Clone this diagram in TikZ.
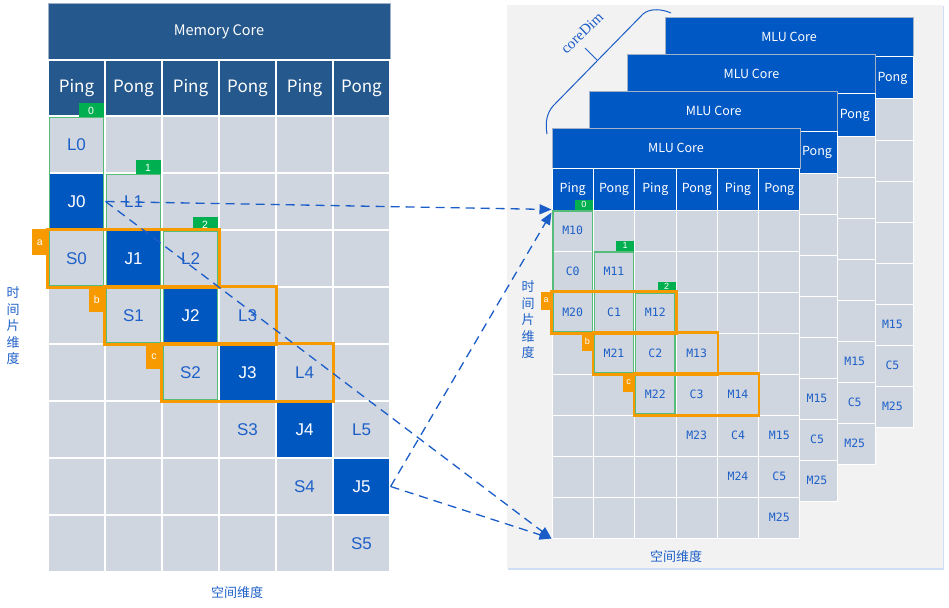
\documentclass[tikz,border=0pt]{standalone}
\usepackage{fontspec}
\setmainfont{Liberation Sans}
\newfontfamily\cjk{Noto Sans CJK SC}
\newfontfamily\monofont{DejaVu Sans Mono}
\newfontfamily\seriffont{Liberation Serif}
\usepackage{tikz}
\usetikzlibrary{calc, positioning, arrows.meta}

\definecolor{memblue}{RGB}{37,88,140}
\definecolor{mlublue}{RGB}{0,88,196}
\definecolor{jblue}{RGB}{0,87,192}
\definecolor{cellgray}{RGB}{207,214,224}
\definecolor{txtblue}{RGB}{30,96,200}
\definecolor{tagorange}{RGB}{247,154,0}
\definecolor{taggreen}{RGB}{0,176,80}
\definecolor{boxgreen}{RGB}{85,188,122}
\definecolor{panelgray}{RGB}{242,242,242}
\definecolor{shadowblue}{RGB}{205,222,245}
\definecolor{edgegray}{RGB}{160,176,198}
\definecolor{arrowblue}{RGB}{26,92,200}

\tikzset{
  memtitle/.style={draw=edgegray, line width=0.8, fill=memblue, text=white, minimum width=342, minimum height=57, inner sep=0, font=\cjk\fontsize{14.5}{14.5}\selectfont},
  memhead/.style={draw=white, line width=1.2, fill=memblue, text=white, minimum width=57, minimum height=56, inner sep=0, font=\cjk\fontsize{17}{17}\selectfont},
  memcell/.style={draw=white, line width=1.2, fill=cellgray, minimum width=57, minimum height=57, inner sep=0},
  memtext/.style={text=txtblue, inner sep=0, font=\fontsize{17}{17}\selectfont},
  jcell/.style={memcell, fill=jblue, text=white, font=\fontsize{17}{17}\selectfont},
  mlutitle/.style={draw=edgegray, line width=0.8, fill=mlublue, text=white, minimum width=248, minimum height=40, inner sep=0, font=\cjk\fontsize{12.5}{12.5}\selectfont},
  mluhead/.style={draw=white, line width=1, fill=mlublue, text=white, minimum width=41.33, minimum height=42, inner sep=0, font=\cjk\fontsize{12.5}{12.5}\selectfont},
  mlucell/.style={draw=white, line width=1, fill=cellgray, minimum width=41.33, minimum height=41, inner sep=0},
  mlutext/.style={text=txtblue, inner sep=0, font=\monofont\fontsize{11.5}{11.5}\selectfont},
  gbox/.style={draw=boxgreen, line width=1.3},
  obox/.style={draw=tagorange, line width=2.4},
  gtag/.style={fill=taggreen, text=white, inner sep=0, outer sep=0, minimum width=25, minimum height=14, font=\fontsize{10.5}{10.5}\selectfont},
  otag/.style={fill=tagorange, text=white, inner sep=0, outer sep=0, minimum width=15, minimum height=26, font=\fontsize{10.5}{10.5}\selectfont},
  sgtag/.style={gtag, minimum width=18, minimum height=10, font=\fontsize{9}{9}\selectfont},
  sotag/.style={otag, minimum width=11, minimum height=18, font=\fontsize{9}{9}\selectfont},
  dimtext/.style={text=txtblue, inner sep=0, align=center, font=\cjk\fontsize{13}{16.5}\selectfont},
  dasharrow/.style={draw=arrowblue, line width=1.3, dash pattern=on 9 off 6, -{Triangle[length=12, width=10]}},
  brc/.style={draw=arrowblue, line width=1}
}

\begin{document}
\begin{tikzpicture}[x=1pt, y=-1pt]
  \useasboundingbox (0,0) rectangle (949,607);

  % memory core %
  \node[memtitle] (memtitle) at (219,31.5) {Memory Core};
  \foreach \c/\t in {0/Ping,1/Pong,2/Ping,3/Pong,4/Ping,5/Pong}
    \node[memhead] (mh-\c) at ({76.5+57*\c},88) {\t};
  \foreach \r in {0,...,7}
    \foreach \c in {0,...,5}
      \node[memcell] (m-\r-\c) at ({76.5+57*\c},{144.5+57*\r}) {};
  \foreach \i in {0,...,5} {
    \pgfmathtruncatemacro\rj{\i+1}
    \pgfmathtruncatemacro\rs{\i+2}
    \node[memtext] (l\i) at (m-\i-\i) {L\i};
    \node[jcell] (j\i) at (m-\rj-\i) {J\i};
    \ifnum\rs<8 \node[memtext] (s\i) at (m-\rs-\i) {S\i};\fi
  }

  % green windows %
  \foreach \i in {0,1,2} {
    \pgfmathtruncatemacro\rs{\i+2}
    \draw[gbox] ([shift={(2,2)}]m-\i-\i.north west) rectangle ([shift={(-2,-2)}]m-\rs-\i.south east);
    \node[gtag, anchor=south east] (g\i) at ([shift={(-2,2)}]m-\i-\i.north east) {\i};
  }
  % orange windows %
  \foreach \i/\t in {0/a,1/b,2/c} {
    \pgfmathtruncatemacro\rs{\i+2}
    \pgfmathtruncatemacro\cr{\i+2}
    \draw[obox] (m-\rs-\i.north west) rectangle (m-\rs-\cr.south east);
    \node[otag, anchor=north east] (o\t) at (m-\rs-\i.north west) {\t};
  }

  \node[dimtext] (ltime) at (13,326) {时\\间\\片\\维\\度};
  \node[dimtext] (lspace) at (237,593) {空间维度};

  % mlu cores, back to front %
  \fill[shadowblue] (508,6) rectangle (944,570);
  \fill[panelgray] (507,5) rectangle (943,568);
  \foreach \k in {3,2,1,0} {
    \begin{scope}[shift={({37.7*\k},{-37*\k})}]
      \node[mlutitle] (t\k) at (676,148) {MLU Core};
      \foreach \c/\t in {0/Ping,1/Pong,2/Ping,3/Pong,4/Ping,5/Pong} {
        \pgfmathtruncatemacro\vis{(\k==0)||(\c==5)}
        \node[mluhead] (h\k-\c) at ({572.67+41.33*\c},189) {\ifnum\vis=1 \t\fi};
      }
      \foreach \r in {0,...,7}
        \foreach \c in {0,...,5}
          \node[mlucell] (k\k-\r-\c) at ({572.67+41.33*\c},{230.5+41*\r}) {};
      \foreach \i in {0,...,5} {
        \pgfmathtruncatemacro\rj{\i+1}
        \pgfmathtruncatemacro\rs{\i+2}
        \pgfmathtruncatemacro\vis{(\k==0)||(\i==5)}
        \ifnum\vis=1
          \node[mlutext] (ma\k-\i) at (k\k-\i-\i) {M1\i};
          \ifnum\rj<8 \node[mlutext] (c\k-\i) at (k\k-\rj-\i) {C\i};\fi
          \ifnum\rs<8 \node[mlutext] (mb\k-\i) at (k\k-\rs-\i) {M2\i};\fi
        \fi
      }
    \end{scope}
  }

  % windows on front core %
  \foreach \i in {0,1,2} {
    \pgfmathtruncatemacro\rs{\i+2}
    \draw[gbox] ([shift={(1.5,1.5)}]k0-\i-\i.north west) rectangle ([shift={(-1.5,-1.5)}]k0-\rs-\i.south east);
    \node[sgtag, anchor=south east] (sg\i) at ([shift={(-1,0)}]k0-\i-\i.north east) {\i};
  }
  \foreach \i/\t in {0/a,1/b,2/c} {
    \pgfmathtruncatemacro\rs{\i+2}
    \pgfmathtruncatemacro\cr{\i+2}
    \draw[obox] (k0-\rs-\i.north west) rectangle (k0-\rs-\cr.south east);
    \node[sotag, anchor=north east] (so\t) at (k0-\rs-\i.north west) {\t};
  }

  \node[dimtext] (rtime) at (528,320) {时\\间\\片\\维\\度};
  \node[dimtext] (rspace) at (676,557) {空间维度};

  % coreDim brace %
  \draw[brc] (547,134) .. controls (545,122) and (547,113) .. (553,106) -- (643,14) .. controls (650,8) and (662,9) .. (671,13);
  \draw[brc] (597,60) -- (585,48);
  \node[text=arrowblue, rotate=44, inner sep=0, font=\seriffont\fontsize{15}{15}\selectfont] (cdim) at (582,33) {coreDim};

  % edges %
  \draw[dasharrow] (j0.east) -- (k0-0-0.north west);
  \draw[dasharrow] (j0.east) -- (k0-7-0.south west);
  \draw[dasharrow] (j5.east) -- ([shift={(0,3)}]k0-0-0.north west);
  \draw[dasharrow] (j5.east) -- (k0-7-0.south west);

\end{tikzpicture}
\end{document}
